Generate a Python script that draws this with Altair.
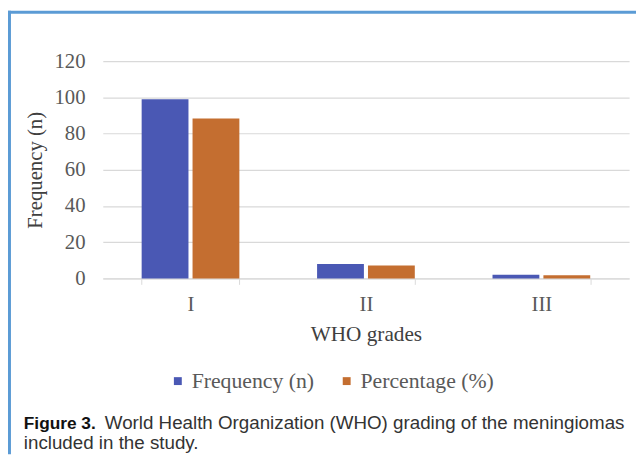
import altair as alt
import pandas as pd

grades = ["I", "II", "III"]
series = ["Frequency (n)", "Percentage (%)"]
frequency = [99, 8, 2]
percentage = [88.4, 7.1, 1.8]
y_ticks = [0, 20, 40, 60, 80, 100, 120]
caption_bold = "Figure 3."
caption_line1 = "World Health Organization (WHO) grading of the meningiomas"
caption_line2 = "included in the study."

rows = []
for g, f, p in zip(grades, frequency, percentage):
    rows.append({"grade": g, "series": series[0], "value": f})
    rows.append({"grade": g, "series": series[1], "value": p})
df = pd.DataFrame(rows)

SERIF = "Liberation Serif"
SANS = "Liberation Sans"
GRAY = "#595959"
DARK = "#404040"
LINE = "#d9d9d9"
FRAME = "#5B9BD5"

bars = alt.Chart(df).mark_bar().encode(
    x=alt.X(
        "grade:N",
        sort=grades,
        scale=alt.Scale(paddingInner=0.443, paddingOuter=0.2215),
        axis=alt.Axis(
            title="WHO grades",
            labelAngle=0,
            tickBand="extent",
            domainColor=LINE,
            tickColor=LINE,
            tickSize=6,
            labelFont=SERIF,
            labelFontSize=21,
            labelColor=GRAY,
            labelPadding=10,
            titleFont=SERIF,
            titleFontSize=21.5,
            titleFontWeight="normal",
            titleColor=DARK,
            titlePadding=9,
            grid=False,
        ),
    ),
    xOffset=alt.XOffset("series:N", sort=series, scale=alt.Scale(paddingInner=0.08)),
    y=alt.Y(
        "value:Q",
        scale=alt.Scale(domain=[0, 120]),
        axis=alt.Axis(
            values=y_ticks,
            title="Frequency (n)",
            domain=False,
            ticks=False,
            grid=True,
            gridColor=LINE,
            gridWidth=1.2,
            labelFont=SERIF,
            labelFontSize=21,
            labelColor=GRAY,
            labelPadding=18,
            titleFont=SERIF,
            titleFontSize=21,
            titleFontWeight="normal",
            titleColor=DARK,
            titlePadding=9,
        ),
    ),
    color=alt.Color(
        "series:N",
        sort=series,
        scale=alt.Scale(domain=series, range=["#4A58B4", "#C46E30"]),
        legend=alt.Legend(
            title=None,
            orient="none",
            legendX=65,
            legendY=313,
            direction="horizontal",
            symbolType="square",
            symbolSize=64,
            symbolStrokeWidth=0,
            labelFont=SERIF,
            labelFontSize=22,
            labelColor=GRAY,
            labelOffset=3,
            columnPadding=21,
            padding=0,
        ),
    ),
)

one = pd.DataFrame({"k": [0]})

frame_top = alt.Chart(one).mark_rule(color=FRAME, strokeWidth=3).encode(
    x=alt.value(-96), x2=alt.value(540), y=alt.value(-49.5)
)
frame_left = alt.Chart(one).mark_rule(color=FRAME, strokeWidth=3).encode(
    x=alt.value(-94.5), y=alt.value(-51), y2=alt.value(398)
)

cap_bold = alt.Chart(pd.DataFrame({"t": [caption_bold]})).mark_text(
    align="left", baseline="alphabetic", font=SANS, fontSize=17.5, fontWeight="bold", color="#111111"
).encode(text="t:N", x=alt.value(-80), y=alt.value(373))

cap_l1 = alt.Chart(pd.DataFrame({"t": [caption_line1]})).mark_text(
    align="left", baseline="alphabetic", font=SANS, fontSize=19, color="#333333"
).encode(text="t:N", x=alt.value(2), y=alt.value(373))

cap_l2 = alt.Chart(pd.DataFrame({"t": [caption_line2]})).mark_text(
    align="left", baseline="alphabetic", font=SANS, fontSize=19, color="#333333"
).encode(text="t:N", x=alt.value(-80), y=alt.value(393))

chart = alt.layer(bars, frame_top, frame_left, cap_bold, cap_l1, cap_l2).properties(
    width=533,
    height=220,
    autosize=alt.AutoSizeParams(type="none"),
    padding={"left": 96, "top": 51, "right": 7, "bottom": 178},
    background="white",
).configure_view(stroke=None)

chart.save("out.html", embed_options={"renderer": "svg", "actions": False})
